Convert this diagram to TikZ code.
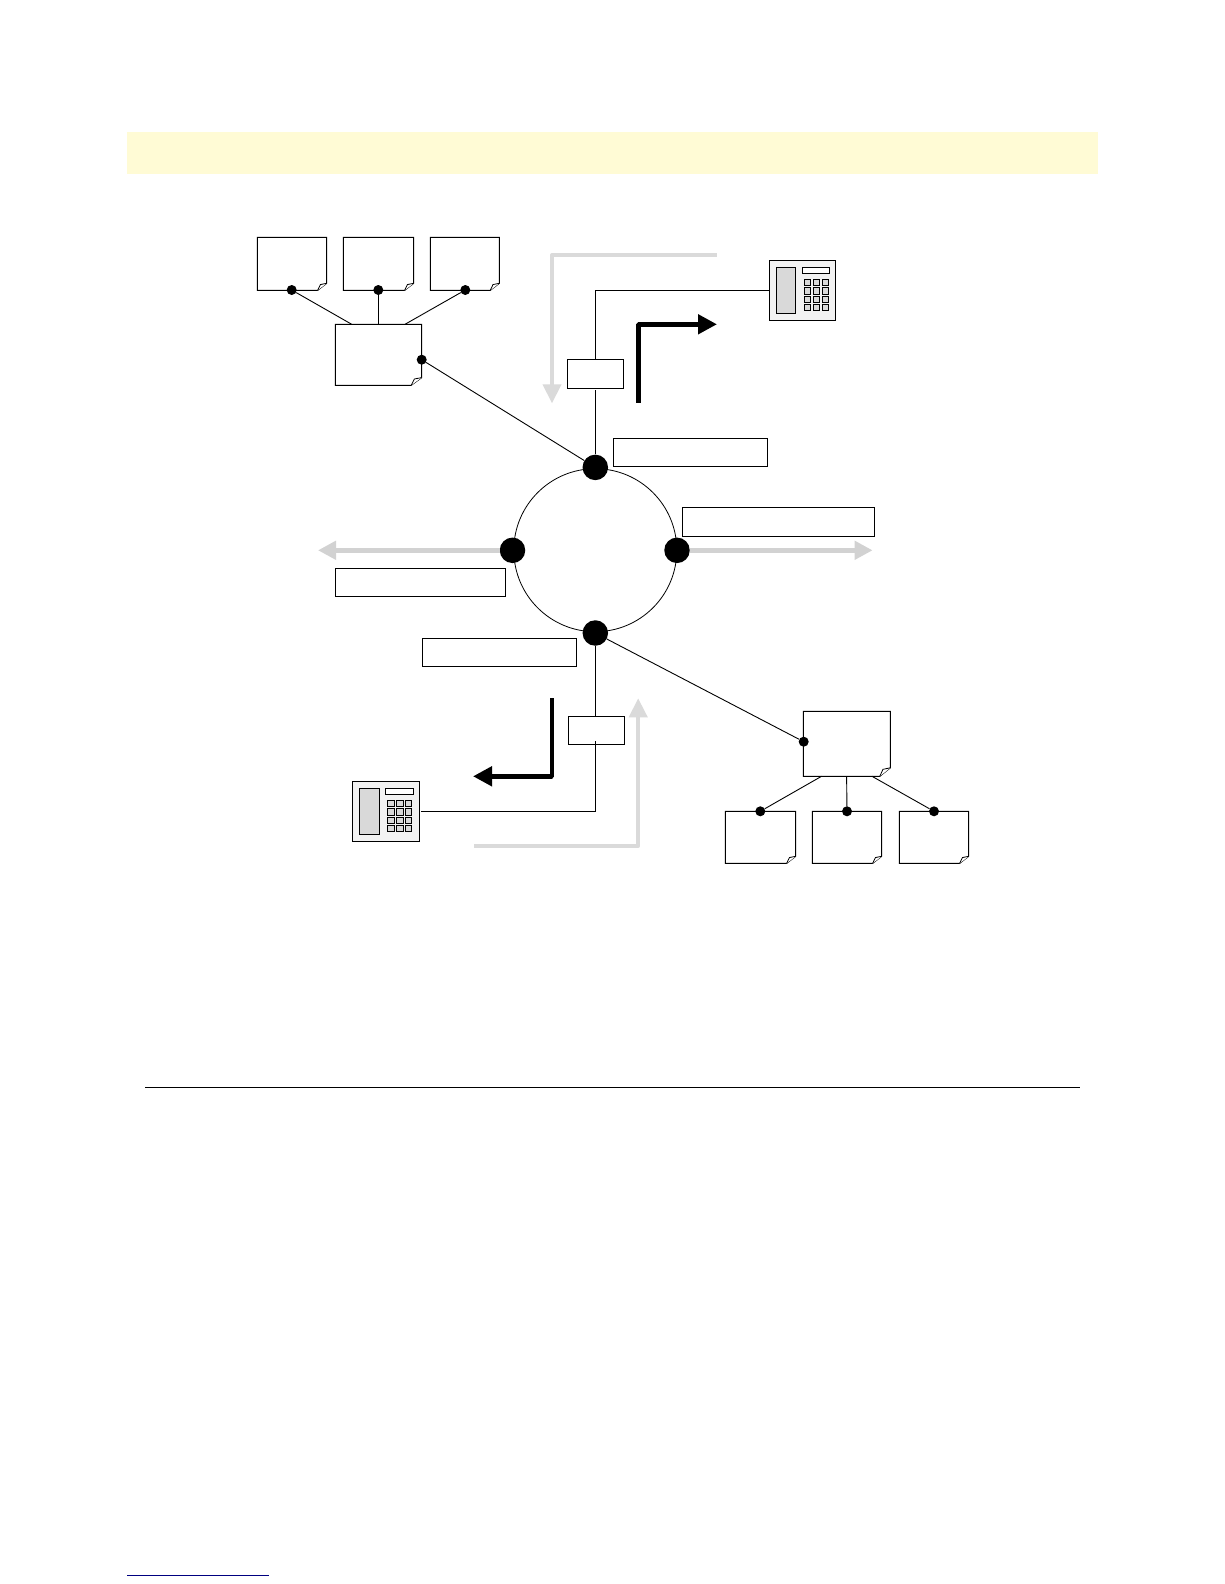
\documentclass[tikz,border=0pt]{standalone}
\usetikzlibrary{arrows.meta}
\definecolor{banner}{HTML}{FFFBD5}
\definecolor{lightarrow}{HTML}{DADADA}
\definecolor{midarrow}{HTML}{D2D2D2}
\definecolor{phonebody}{HTML}{F2F2F2}
\definecolor{handset}{HTML}{D9D9D9}
\definecolor{footblue}{HTML}{000080}
\tikzset{
  wire/.style={draw=black,line width=0.9pt},
  outline/.style={draw=black,line width=1pt,fill=white},
  labelbox/.style={draw=black,line width=1pt,fill=white,inner sep=0pt,anchor=north west},
  bigdot/.style={circle,fill=black,inner sep=0pt,minimum size=25.5pt},
  smalldot/.style={circle,fill=black,inner sep=0pt,minimum size=10pt},
  blackarrow/.style={draw=black,line width=4.7pt,line join=bevel,-{Triangle[length=19pt,width=19pt]}},
  palearrow/.style={draw=lightarrow,line width=4pt,line join=round,-{Triangle[length=19pt,width=18pt]}},
  midarrowline/.style={draw=midarrow,line width=5pt,-{Triangle[length=18pt,width=18pt]}},
  ringstyle/.style={circle,draw=black,line width=0.8pt,inner sep=0pt,minimum size=163pt},
  key/.style={draw=black,line width=0.9pt,fill=handset},
}
% \docnode{name}{x1}{y1}{x2}{y2}{fold dx}{fold dy}
\newcommand{\docnode}[7]{%
  \path[outline] (#2,#3) -- (#4,#3) -- (#4,#5-#7) -- (#4-#6,#5) -- (#2,#5) -- cycle;
  \draw[line width=0.8pt,fill=white] (#4,#5-#7) -- (#4-#6*0.7,#5-#7*0.82) -- (#4-#6,#5);
  \node[inner sep=0pt,minimum width=#4pt-#2pt,minimum height=#5pt-#3pt] (#1) at ({(#2+#4)/2},{(#3+#5)/2}) {};
}
% \phonenode{name}{x}{y}: x,y = top left of the 66.4 x 60.4 body
\newcommand{\phonenode}[3]{%
  \begin{scope}[shift={(#2,#3)}]
    \node[draw=black,line width=1pt,fill=phonebody,inner sep=0pt,minimum width=66.4pt,minimum height=60.4pt] (#1) at (33.2,30.2) {};
    \draw[line width=1pt,fill=handset] (7,7) rectangle (26.6,53.4);
    \draw[line width=1pt,fill=white] (33,7) rectangle (60.4,13.4);
    \foreach \kx in {35,44,52.7}{
      \foreach \ky in {19,27.5,36,44}{
        \path[key] (\kx,\ky) rectangle ++(6.4,6.2);
      }
    }
  \end{scope}
}
\begin{document}
\begin{tikzpicture}[x=1pt,y=-1pt]
\useasboundingbox (0,0) rectangle (1224,1584);
\fill[white] (0,0) rectangle (1224,1584);
% page furniture
\fill[banner] (126.8,132) rectangle (1098,173.7);
\draw[line width=0.9pt] (145,1087.3) -- (1080,1087.3);
\draw[footblue,line width=1pt] (127,1575.3) -- (269,1575.3);

% ring and stations
\node[ringstyle] (ring) at (595.3,550.2) {};
\node[bigdot] (top) at (595.3,467.4) {};
\node[bigdot] (bottom) at (595.3,633) {};
\node[bigdot] (left) at (512.5,550.3) {};
\node[bigdot] (right) at (677,550.3) {};

% documents top left
\docnode{da}{257.3}{237.3}{326.7}{290.3}{9}{7}
\docnode{db}{343.3}{237.3}{413.7}{290.3}{9}{7}
\docnode{dc}{430.3}{237.3}{499.3}{290.3}{9}{7}
\docnode{hubA}{335.3}{324.3}{421.7}{385.3}{10.5}{7.7}
% documents bottom right
\docnode{hubB}{803.3}{711.3}{890.3}{776.3}{10.5}{8.5}
\docnode{dd}{725.3}{811.3}{795.7}{863.3}{9}{7}
\docnode{de}{812.3}{811.3}{881.7}{863.3}{9}{7}
\docnode{df}{899.3}{811.3}{968.7}{863.3}{9}{7}

% small connection dots
\node[smalldot] (pa) at (291.7,290) {};
\node[smalldot] (pb) at (378.3,290) {};
\node[smalldot] (pc) at (465.3,290) {};
\node[smalldot] (pd) at (421.7,359.7) {};
\node[smalldot] (pe) at (803.7,741.7) {};
\node[smalldot] (pf) at (760.3,811.3) {};
\node[smalldot] (pg) at (847,811.3) {};
\node[smalldot] (ph) at (934,811.3) {};

\coordinate (hAa) at (351.7,324.3);
\coordinate (hAb) at (378.3,324.3);
\coordinate (hAc) at (405,324.3);
\coordinate (hBa) at (821.5,776.3);
\coordinate (hBb) at (846.6,776.3);
\coordinate (hBc) at (872,776.3);
\draw[wire] (pa) -- (hAa);
\draw[wire] (pb) -- (hAb);
\draw[wire] (pc) -- (hAc);
\draw[wire] (pf) -- (hBa);
\draw[wire] (pg.center) -- (hBb);
\draw[wire] (ph) -- (hBc);
\draw[wire] (pd) -- (top);
\draw[wire] (pe) -- (bottom);

% phones
\phonenode{phoneA}{769.3}{260.3}
\phonenode{phoneB}{352.8}{781.3}

% adapters and wires
\node[labelbox,minimum width=55.6pt,minimum height=29pt] (boxA) at (567.3,359.3) {};
\node[labelbox,minimum width=55.6pt,minimum height=28pt] (boxB) at (568.3,716.3) {};
\coordinate (wA) at (595.3,390);
\coordinate (wAc) at (595.3,290.3);
\coordinate (wB) at (595.3,741);
\coordinate (wBc) at (595.3,811.3);
\coordinate (wBp) at (421,811.3);
\draw[wire] (top) -- (wA);
\draw[wire] (boxA.north -| wAc) -- (wAc) -- (phoneA.west |- wAc);
\draw[wire] (bottom) -- (boxB.north -| wB);
\draw[wire] (wB) -- (wBc) -- (wBp);

% signal arrows
\coordinate (aS) at (716.7,255);
\coordinate (aC) at (552,255);
\coordinate (aT) at (552,403.3);
\draw[palearrow] (aS) -- (aC) -- (aT);
\coordinate (bS) at (638.6,402.7);
\coordinate (bC) at (638.6,324.3);
\coordinate (bT) at (717,324.3);
\draw[blackarrow] (bS) -- (bC) -- (bT);
\coordinate (cS) at (552,698);
\coordinate (cC) at (552,776.3);
\coordinate (cT) at (473,776.3);
\draw[blackarrow] (cS) -- (cC) -- (cT);
\coordinate (eS) at (474.3,845.7);
\coordinate (eC) at (638.2,845.7);
\coordinate (eT) at (638.2,698.3);
\draw[palearrow] (eS) -- (eC) -- (eT);
\coordinate (fT) at (318,550.3);
\coordinate (gT) at (872.6,550.3);
\draw[midarrowline] (left) -- (fT);
\draw[midarrowline] (right) -- (gT);

% empty label boxes
\node[labelbox,minimum width=153.6pt,minimum height=27.6pt] (lA) at (613.3,438.3) {};
\node[labelbox,minimum width=192pt,minimum height=28.4pt] (lB) at (682.2,507.3) {};
\node[labelbox,minimum width=169.4pt,minimum height=28pt] (lC) at (335.3,568.3) {};
\node[labelbox,minimum width=153.8pt,minimum height=27.6pt] (lD) at (422.1,638.3) {};
\end{tikzpicture}
\end{document}
